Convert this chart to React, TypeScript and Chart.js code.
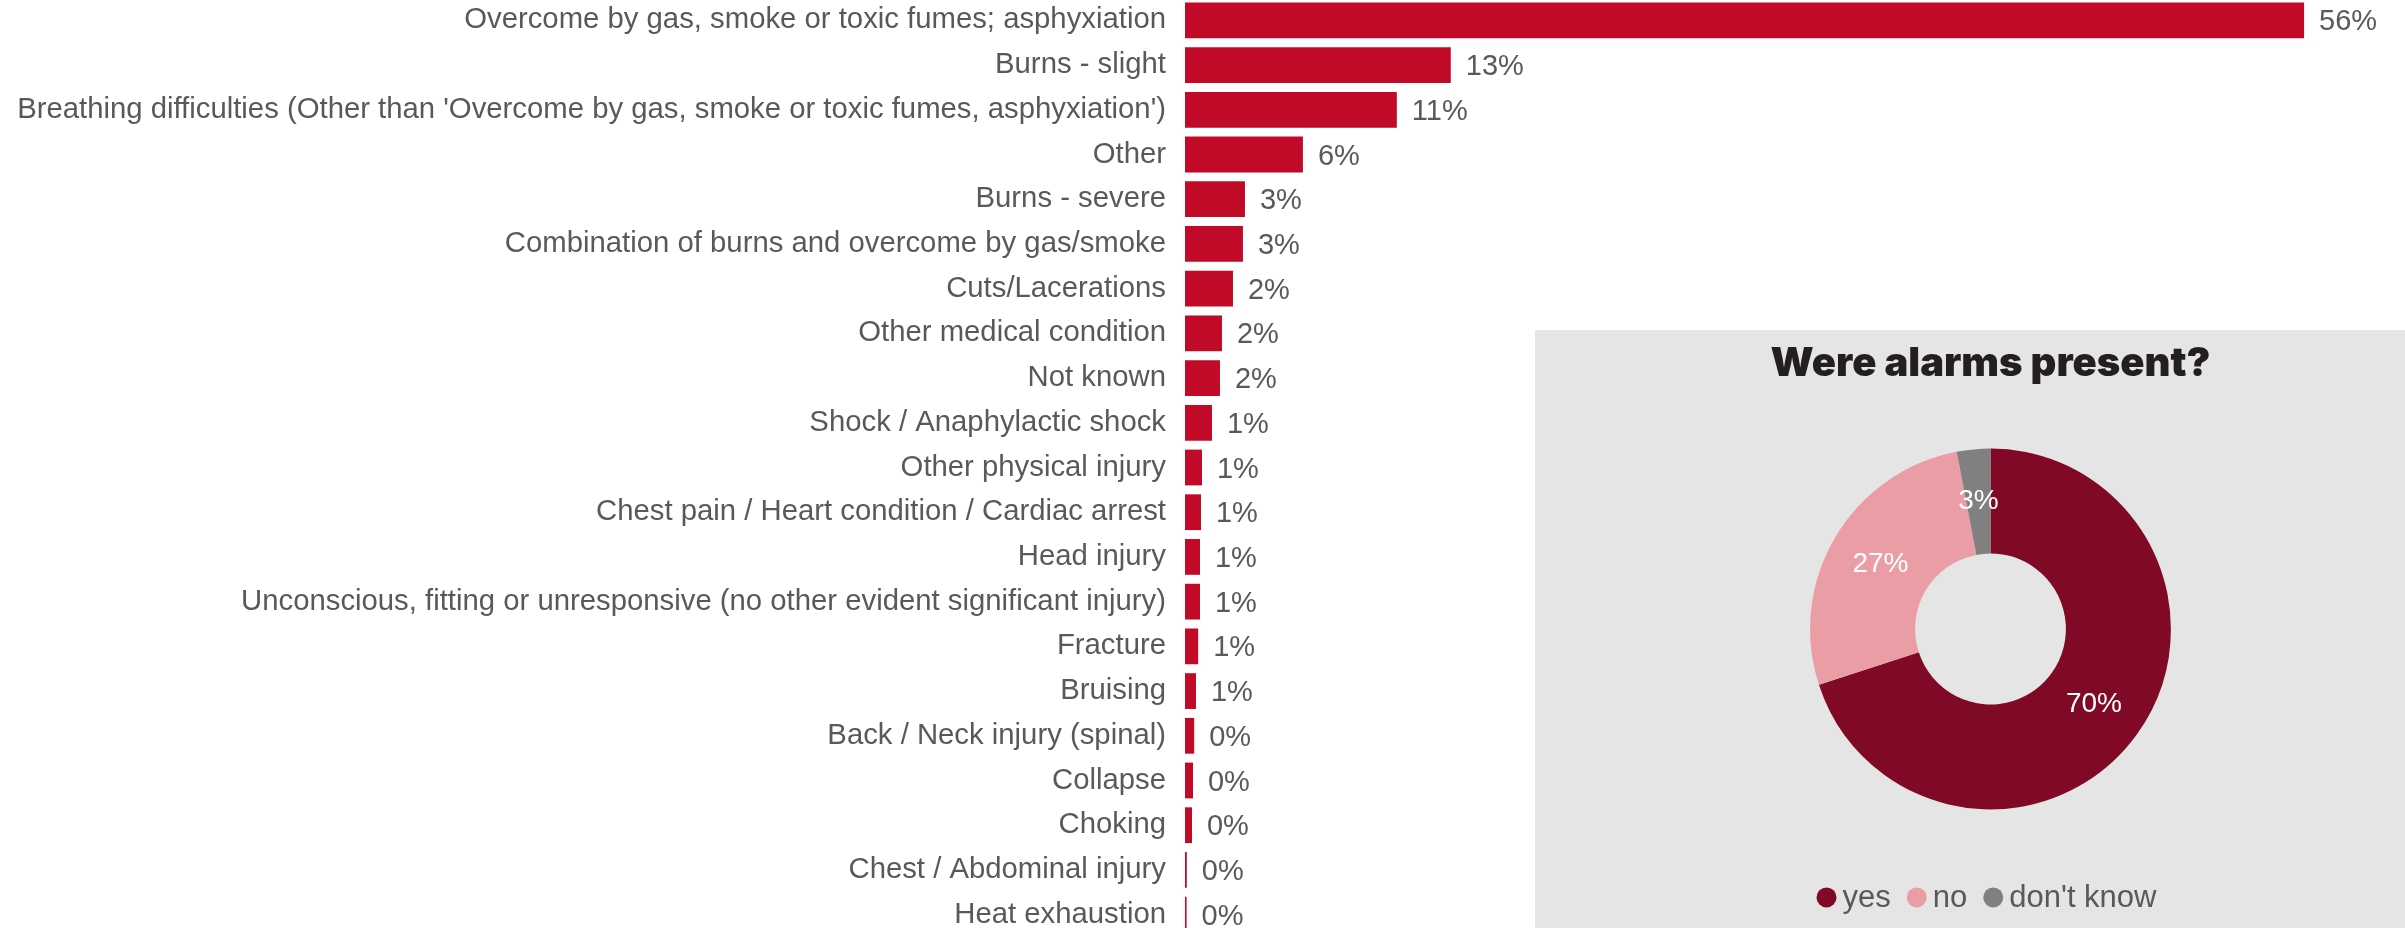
import React, { useEffect, useRef } from "react";
import { Chart, registerables } from "chart.js";

Chart.register(...registerables);

// ---------- data ----------
const categories = [
  "Overcome by gas, smoke or toxic fumes; asphyxiation",
  "Burns - slight",
  "Breathing difficulties (Other than 'Overcome by gas, smoke or toxic fumes, asphyxiation')",
  "Other",
  "Burns - severe",
  "Combination of burns and overcome by gas/smoke",
  "Cuts/Lacerations",
  "Other medical condition",
  "Not known",
  "Shock / Anaphylactic shock",
  "Other physical injury",
  "Chest pain / Heart condition / Cardiac arrest",
  "Head injury",
  "Unconscious, fitting or unresponsive (no other evident significant injury)",
  "Fracture",
  "Bruising",
  "Back / Neck injury (spinal)",
  "Collapse",
  "Choking",
  "Chest / Abdominal injury",
  "Heat exhaustion",
];
const injuryShares = [
  56.0, 13.3, 10.6, 5.9, 3.0, 2.9, 2.4, 1.85, 1.75, 1.35, 0.85, 0.8, 0.75,
  0.75, 0.66, 0.55, 0.46, 0.4, 0.35, 0.09, 0.08,
];
const alarmLabels = ["yes", "no", "don't know"];
const alarmShares = [70, 27, 3];
const alarmTitle = "Were alarms present?";

// ---------- styles ----------
const barColor = "#C00A28";
const alarmColors = ["#800A25", "#EB9DA6", "#808080"];
const textGray = "#595959";
const panelBg = "#E5E5E5";
const FONT = '"Liberation Sans", Arial, sans-serif';

const barValueLabels = {
  id: "barValueLabels",
  afterDatasetsDraw(chart: any) {
    const ctx = chart.ctx;
    const meta = chart.getDatasetMeta(0);
    const data = chart.data.datasets[0].data as number[];
    ctx.save();
    ctx.font = `29px ${FONT}`;
    ctx.fillStyle = textGray;
    ctx.textAlign = "left";
    ctx.textBaseline = "middle";
    meta.data.forEach((el: any, i: number) => {
      ctx.fillText(Math.round(data[i]) + "%", el.x + 15, el.y + 2);
    });
    ctx.restore();
  },
};

const donutLabels = {
  id: "donutLabels",
  afterDatasetsDraw(chart: any) {
    const ctx = chart.ctx;
    const meta = chart.getDatasetMeta(0);
    const data = chart.data.datasets[0].data as number[];
    ctx.save();
    ctx.font = `28px ${FONT}`;
    ctx.fillStyle = "#FFFFFF";
    ctx.textAlign = "center";
    ctx.textBaseline = "middle";
    meta.data.forEach((arc: any, i: number) => {
      const p = arc.tooltipPosition(true);
      ctx.fillText(Math.round(data[i]) + "%", p.x, p.y);
    });
    ctx.restore();
  },
};

const donutLegend = {
  id: "donutLegend",
  afterDraw(chart: any) {
    const ctx = chart.ctx;
    const labels = chart.data.labels as string[];
    const colors = chart.data.datasets[0].backgroundColor as string[];
    ctx.save();
    ctx.font = `31px ${FONT}`;
    const r = 10;
    const gap = 6;
    const spacing = 16;
    const widths = labels.map((l) => ctx.measureText(l).width);
    const total =
      widths.reduce((a, w) => a + 2 * r + gap + w, 0) +
      spacing * (labels.length - 1);
    let x = chart.width / 2 - total / 2 - 4;
    const y = chart.chartArea.bottom + 88;
    ctx.textBaseline = "middle";
    ctx.textAlign = "left";
    labels.forEach((l, i) => {
      ctx.fillStyle = colors[i];
      ctx.beginPath();
      ctx.arc(x + r, y, r, 0, Math.PI * 2);
      ctx.fill();
      ctx.fillStyle = textGray;
      ctx.fillText(l, x + 2 * r + gap, y + 1);
      x += 2 * r + gap + widths[i] + spacing;
    });
    ctx.restore();
  },
};

export default function App() {
  const barRef = useRef<HTMLCanvasElement>(null);
  const pieRef = useRef<HTMLCanvasElement>(null);

  useEffect(() => {
    document.body.style.margin = "0";
    document.body.style.overflow = "hidden";

    const bar = new Chart(barRef.current!, {
      type: "bar",
      data: {
        labels: categories,
        datasets: [
          {
            data: injuryShares,
            backgroundColor: barColor,
            borderWidth: 0,
            categoryPercentage: 1,
            barPercentage: 0.8,
          },
        ],
      },
      options: {
        indexAxis: "y",
        animation: false,
        responsive: false,
        maintainAspectRatio: false,
        layout: { padding: { top: 0, bottom: 0, left: 0, right: 21 } },
        plugins: {
          legend: { display: false },
          tooltip: { enabled: false },
          title: { display: false },
        },
        scales: {
          x: { display: false, min: 0, max: 60 },
          y: {
            grid: { display: false, drawTicks: false },
            border: { display: false },
            ticks: {
              autoSkip: false,
              color: textGray,
              padding: 19,
              font: { family: FONT, size: 29.3 },
            },
            afterFit(scale: any) {
              scale.width = 1185;
              scale.paddingTop = 0;
              scale.paddingBottom = 0;
            },
          },
        },
      },
      plugins: [barValueLabels],
    } as any);

    const pie = new Chart(pieRef.current!, {
      type: "doughnut",
      data: {
        labels: alarmLabels,
        datasets: [
          {
            data: alarmShares,
            backgroundColor: alarmColors,
            borderWidth: 0,
          },
        ],
      },
      options: {
        animation: false,
        responsive: false,
        maintainAspectRatio: false,
        cutout: "41.8%",
        layout: { padding: { top: 0, left: 0, right: 0, bottom: 140.6 } },
        plugins: {
          legend: { display: false },
          tooltip: { enabled: false },
          title: {
            display: true,
            text: alarmTitle,
            color: "#231F20",
            font: {
              family: '"Inter", "Liberation Sans", sans-serif',
              weight: "900",
              size: 40,
              lineHeight: 1.2,
            },
            padding: { top: 10, bottom: 60.6 },
          },
        },
      },
      plugins: [donutLabels, donutLegend],
    } as any);

    return () => {
      bar.destroy();
      pie.destroy();
    };
  }, []);

  return (
    <div
      style={{
        position: "relative",
        width: 2405,
        height: 928,
        overflow: "hidden",
        background: "#FFFFFF",
      }}
    >
      <canvas
        ref={barRef}
        width={2405}
        height={939}
        style={{ position: "absolute", left: 0, top: -2, width: 2405, height: 939 }}
      />
      <canvas
        ref={pieRef}
        width={911}
        height={620}
        style={{
          position: "absolute",
          left: 1535,
          top: 330,
          width: 911,
          height: 620,
          background: panelBg,
        }}
      />
    </div>
  );
}
